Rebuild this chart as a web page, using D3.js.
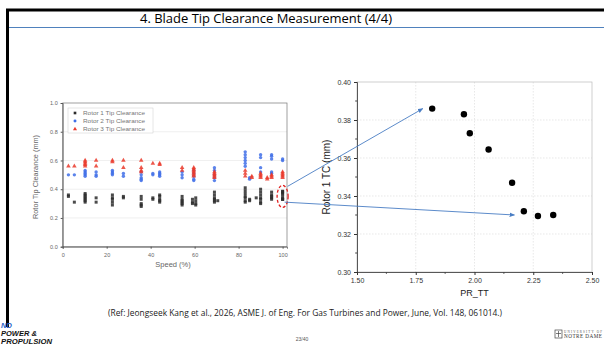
<!DOCTYPE html>
<html>
<head>
<meta charset="utf-8">
<script src="https://cdn.jsdelivr.net/npm/d3@7"></script>
<style>
  body { margin: 0; background: #fff; }
  svg { display: block; }
</style>
</head>
<body>
<svg id="slide" width="604" height="345"></svg>
<script>
// left chart: rotor tip clearance vs speed, [speed %, clearance mm]
const rotor1 = [
  [2.6,0.36],[2.6,0.35],[5.3,0.31],
  [10.2,0.37],[10.2,0.36],[10.2,0.35],[10.2,0.34],[10.2,0.33],[10.2,0.32],[10.2,0.31],
  [15.2,0.34],[15.2,0.31],
  [22.6,0.36],[22.6,0.34],[22.6,0.33],[22.6,0.31],[22.6,0.29],
  [27.6,0.35],[27.6,0.34],
  [35.7,0.35],[35.7,0.33],[35.7,0.30],[35.7,0.29],[35.7,0.28],
  [41,0.34],[41,0.33],
  [44.1,0.36],[44.1,0.35],[44.1,0.33],[44.1,0.32],[44.1,0.31],
  [54.3,0.35],[54.3,0.33],[54.3,0.32],[54.3,0.31],[54.3,0.30],[54.3,0.29],
  [59,0.33],[59,0.31],[59,0.30],[60.5,0.34],[60.5,0.32],[60.5,0.30],[60.5,0.29],
  [69,0.38],[69,0.36],[69,0.34],[69,0.33],[69,0.32],[69,0.31],[70.5,0.32],
  [83,0.41],[83,0.39],[83,0.37],[83,0.35],[83,0.34],[83,0.32],[83,0.31],[85,0.33],[85,0.32],
  [88,0.34],[90,0.40],[90,0.38],[90,0.36],[90,0.34],[90,0.33],[90,0.31],[90,0.30],
  [95,0.38],[95,0.36],[95,0.35],[95,0.34],[95,0.33],
  [100,0.386],[100,0.383],[100,0.373],[100,0.3645],[100,0.347],[100,0.332],[100,0.3295],[100,0.330]
];
const rotor2 = [
  [2.6,0.50],[5.3,0.50],
  [10.2,0.53],[10.2,0.52],[10.2,0.51],[10.2,0.50],[10.2,0.49],
  [15.2,0.52],[15.2,0.50],[15.2,0.49],
  [22.6,0.53],[22.6,0.52],[22.6,0.51],[22.6,0.50],
  [27.6,0.51],[27.6,0.49],
  [35.7,0.52],[35.7,0.50],[35.7,0.48],[35.7,0.47],[35.7,0.46],
  [41,0.51],[41,0.50],
  [44.1,0.52],[44.1,0.51],[44.1,0.50],[44.1,0.49],
  [54.3,0.52],[54.3,0.50],[54.3,0.48],
  [59.6,0.53],[59.6,0.51],[59.6,0.49],[59.6,0.47],[59.6,0.46],
  [69,0.55],[69,0.53],[69,0.50],[69,0.48],[69,0.46],
  [83,0.66],[83,0.64],[83,0.62],[83,0.60],[83,0.58],[83,0.56],[85,0.48],[85,0.47],
  [90,0.64],[90,0.62],[90,0.55],[90,0.52],
  [95,0.64],[95,0.63],[95,0.61],[95,0.52],[95,0.51],
  [100,0.61],[100,0.60]
];
const rotor3 = [
  [2.6,0.56],[5.3,0.56],
  [10.2,0.60],[10.2,0.59],[10.2,0.58],[10.2,0.57],[10.2,0.56],
  [15.2,0.60],[15.2,0.56],
  [22.6,0.60],[22.6,0.59],
  [27.6,0.60],[27.6,0.55],
  [35.7,0.60],[35.7,0.55],[35.7,0.53],[35.7,0.52],
  [41,0.58],[44.1,0.58],[44.1,0.57],
  [54.3,0.55],[54.3,0.53],
  [59.6,0.55],[59.6,0.54],[59.6,0.53],[59.6,0.52],[59.6,0.51],[59.6,0.50],[59.6,0.49],
  [69,0.52],[69,0.51],[69,0.50],[69,0.49],[69,0.48],
  [83,0.53],[83,0.51],[83,0.49],[86,0.49],[86,0.48],
  [90,0.51],[90,0.50],[90,0.49],[90,0.48],[93,0.48],[93,0.47],
  [95,0.50],[95,0.49],[95,0.48],
  [100,0.52],[100,0.51],[100,0.50],[100,0.49],[100,0.48]
];
const leftNames = ['Rotor 1 Tip Clearance', 'Rotor 2 Tip Clearance', 'Rotor 3 Tip Clearance'];
const speedTicks = [0, 20, 40, 60, 80, 100];
const clearTicks = [0, 0.2, 0.4, 0.6, 0.8, 1.0];

// right chart: rotor 1 clearance at 100% speed vs total pressure ratio
const prTT = [1.82, 1.955, 1.98, 2.06, 2.16, 2.21, 2.27, 2.335];
const rotor1TC = [0.386, 0.383, 0.373, 0.3645, 0.347, 0.332, 0.3295, 0.330];
const prTicks = [1.50, 1.75, 2.00, 2.25, 2.50];
const tcTicks = [0.30, 0.32, 0.34, 0.36, 0.38, 0.40];

const svg = d3.select('#slide');

// slide frame + title
svg.append('line').attr('x1', 6).attr('x2', 604).attr('y1', 10).attr('y2', 10)
  .attr('stroke', '#000').attr('stroke-width', 3);
svg.append('line').attr('x1', 7.5).attr('x2', 7.5).attr('y1', 9).attr('y2', 327)
  .attr('stroke', '#000').attr('stroke-width', 3);
svg.append('line').attr('x1', 9).attr('x2', 604).attr('y1', 27.5).attr('y2', 27.5)
  .attr('stroke', '#4f81bd').attr('stroke-width', 1.2);
svg.append('text').attr('x', 266).attr('y', 23).attr('text-anchor', 'middle')
  .attr('font-family', 'Open Sans, sans-serif').attr('font-size', 13)
  .attr('textLength', 252).attr('lengthAdjust', 'spacingAndGlyphs')
  .text('4. Blade Tip Clearance Measurement (4/4)');

// ---------- left chart ----------
const L = { left: 62.7, right: 287, top: 103, bottom: 246.7 };
const xL = d3.scaleLinear().domain([0, 102]).range([L.left, L.right]);
const yL = d3.scaleLinear().domain([0, 1]).range([L.bottom, L.top]);
const left = svg.append('g').attr('class', 'left-chart').attr('font-family', 'Liberation Sans, Arial, sans-serif');

left.append('g').selectAll('line').data(clearTicks.slice(1, -1)).join('line')
  .attr('x1', L.left).attr('x2', L.right).attr('y1', d => yL(d)).attr('y2', d => yL(d))
  .attr('stroke', '#e4e4e4').attr('stroke-width', 0.6);
left.append('rect').attr('x', L.left).attr('y', L.top)
  .attr('width', L.right - L.left).attr('height', L.bottom - L.top)
  .attr('fill', 'none').attr('stroke', '#777').attr('stroke-width', 0.7);

const axL = left.append('g').attr('transform', `translate(0,${L.bottom})`)
  .call(d3.axisBottom(xL).tickValues(speedTicks).tickSize(2).tickFormat(d3.format('d')));
const ayL = left.append('g').attr('transform', `translate(${L.left},0)`)
  .call(d3.axisLeft(yL).tickValues(clearTicks).tickSize(2).tickFormat(d3.format('.1f')));
[axL, ayL].forEach(a => {
  a.select('.domain').attr('stroke', '#555').attr('stroke-width', 0.8);
  a.selectAll('.tick line').attr('stroke', '#555');
  a.selectAll('.tick text').attr('font-size', 5.5).attr('fill', '#666');
});
axL.selectAll('.tick text').attr('dy', '0.9em');

left.append('text').attr('x', 173).attr('y', 267).attr('text-anchor', 'middle')
  .attr('font-size', 7.5).attr('fill', '#666').text('Speed (%)');
left.append('text').attr('transform', 'translate(38,177) rotate(-90)').attr('text-anchor', 'middle')
  .attr('font-size', 7.3).attr('fill', '#666').text('Rotor Tip Clearance (mm)');

const leftSeries = [
  { data: rotor1, color: '#2b2b2b', symbol: d3.symbolSquare },
  { data: rotor2, color: '#3f6fe8', symbol: d3.symbolCircle },
  { data: rotor3, color: '#ea3a2c', symbol: d3.symbolTriangle }
];
leftSeries.forEach(s => {
  left.append('g').selectAll('path').data(s.data).join('path')
    .attr('transform', d => `translate(${xL(d[0])},${yL(d[1])})`)
    .attr('d', d3.symbol(s.symbol, 9))
    .attr('fill', s.color).attr('opacity', 0.85);
});

const legend = left.append('g').attr('transform', 'translate(68,108)');
legend.append('rect').attr('width', 85).attr('height', 25)
  .attr('fill', '#fff').attr('stroke', '#ccc').attr('stroke-width', 0.5);
leftSeries.forEach((s, i) => {
  legend.append('path').attr('transform', `translate(7,${5 + i * 8})`)
    .attr('d', d3.symbol(s.symbol, 7)).attr('fill', s.color);
  legend.append('text').attr('x', 15).attr('y', 7 + i * 8)
    .attr('font-size', 5.5).attr('fill', '#777')
    .attr('textLength', 62).attr('lengthAdjust', 'spacingAndGlyphs').text(leftNames[i]);
});

// red dashed mark around the 100% speed points
left.append('ellipse').attr('cx', xL(100)).attr('cy', yL(0.35)).attr('rx', 5.5).attr('ry', 11)
  .attr('fill', 'none').attr('stroke', '#e02020').attr('stroke-width', 1.3).attr('stroke-dasharray', '3,2');

// ---------- right chart ----------
const R = { left: 357, right: 592, top: 82, bottom: 272 };
const xR = d3.scaleLinear().domain([1.5, 2.5]).range([R.left, R.right]);
const yR = d3.scaleLinear().domain([0.30, 0.40]).range([R.bottom, R.top]);
const right = svg.append('g').attr('class', 'right-chart').attr('font-family', 'Liberation Sans, Arial, sans-serif');

right.append('g').selectAll('line').data(prTicks.slice(1, -1)).join('line')
  .attr('x1', d => xR(d)).attr('x2', d => xR(d)).attr('y1', R.top).attr('y2', R.bottom)
  .attr('stroke', '#d8d8d8').attr('stroke-width', 0.6).attr('stroke-dasharray', '1.5,1.5');
right.append('g').selectAll('line').data(tcTicks.slice(1, -1)).join('line')
  .attr('x1', R.left).attr('x2', R.right).attr('y1', d => yR(d)).attr('y2', d => yR(d))
  .attr('stroke', '#d8d8d8').attr('stroke-width', 0.6).attr('stroke-dasharray', '1.5,1.5');
right.append('rect').attr('x', R.left).attr('y', R.top)
  .attr('width', R.right - R.left).attr('height', R.bottom - R.top)
  .attr('fill', 'none').attr('stroke', '#bbb').attr('stroke-width', 0.7);

const axR = right.append('g').attr('transform', `translate(0,${R.bottom})`)
  .call(d3.axisBottom(xR).tickValues(prTicks).tickSize(3).tickFormat(d3.format('.2f')));
const ayR = right.append('g').attr('transform', `translate(${R.left},0)`)
  .call(d3.axisLeft(yR).tickValues(tcTicks).tickSize(3).tickFormat(d3.format('.2f')));
// minor ticks
axR.append('g').selectAll('line').data(d3.pairs(prTicks).map(p => (p[0] + p[1]) / 2)).join('line')
  .attr('x1', d => xR(d)).attr('x2', d => xR(d)).attr('y1', 0).attr('y2', 1.8).attr('stroke', '#444');
ayR.append('g').selectAll('line').data(d3.pairs(tcTicks).map(p => (p[0] + p[1]) / 2)).join('line')
  .attr('y1', d => yR(d)).attr('y2', d => yR(d)).attr('x1', 0).attr('x2', -1.8).attr('stroke', '#444');
[axR, ayR].forEach(a => {
  a.select('.domain').attr('stroke', '#333').attr('stroke-width', 0.8);
  a.selectAll('.tick line').attr('stroke', '#333');
  a.selectAll('.tick text').attr('font-size', 7).attr('fill', '#333');
});

right.append('text').attr('x', (R.left + R.right) / 2).attr('y', 296).attr('text-anchor', 'middle')
  .attr('font-size', 9).attr('fill', '#222').text('PR_TT');
right.append('text').attr('transform', `translate(330,${(R.top + R.bottom) / 2}) rotate(-90)`)
  .attr('text-anchor', 'middle').attr('font-size', 10).attr('fill', '#222').text('Rotor 1 TC (mm)');

right.append('g').selectAll('circle').data(prTT).join('circle')
  .attr('cx', d => xR(d)).attr('cy', (d, i) => yR(rotor1TC[i])).attr('r', 3.2).attr('fill', '#000');

// ---------- arrows ----------
const defs = svg.append('defs');
defs.append('marker').attr('id', 'arrow').attr('viewBox', '0 0 10 10').attr('refX', 9).attr('refY', 5)
  .attr('markerWidth', 6).attr('markerHeight', 6).attr('orient', 'auto')
  .append('path').attr('d', 'M0,1 L10,5 L0,9 z').attr('fill', '#4a7ec4');
const arrows = [
  [[xL(100) + 5, yL(0.42)], [xR(1.78), yR(0.386)]],
  [[xL(100) + 2, yL(0.31)], [xR(2.17), yR(0.330)]]
];
svg.append('g').selectAll('line').data(arrows).join('line')
  .attr('x1', d => d[0][0]).attr('y1', d => d[0][1]).attr('x2', d => d[1][0]).attr('y2', d => d[1][1])
  .attr('stroke', '#4a7ec4').attr('stroke-width', 0.9).attr('marker-end', 'url(#arrow)');

// ---------- footer ----------
svg.append('text').attr('x', 305).attr('y', 316).attr('text-anchor', 'middle')
  .attr('font-family', 'Open Sans, sans-serif').attr('font-size', 8.3)
  .attr('textLength', 394).attr('lengthAdjust', 'spacingAndGlyphs').attr('fill', '#222')
  .text('(Ref: Jeongseek Kang et al., 2026, ASME J. of Eng. For Gas Turbines and Power, June, Vol. 148, 061014.)');
svg.append('text').attr('x', 302).attr('y', 341).attr('text-anchor', 'middle')
  .attr('font-family', 'Liberation Sans, sans-serif').attr('font-size', 5).attr('fill', '#555').text('23/40');

const nd = svg.append('g').attr('font-family', 'Liberation Sans, Arial, sans-serif')
  .attr('font-weight', 'bold').attr('font-style', 'italic');
nd.append('text').attr('x', 1).attr('y', 328).attr('font-size', 7.5).attr('fill', '#1f5fc8').text('ND');
nd.append('text').attr('x', 1).attr('y', 336).attr('font-size', 7.5).attr('fill', '#111').text('POWER &');
nd.append('text').attr('x', 1).attr('y', 344).attr('font-size', 7.5).attr('fill', '#111')
  .attr('textLength', 51).attr('lengthAdjust', 'spacingAndGlyphs').text('PROPULSION');

const und = svg.append('g').attr('transform', 'translate(555,330)');
und.append('rect').attr('x', 0).attr('y', 0).attr('width', 7).attr('height', 8)
  .attr('fill', 'none').attr('stroke', '#444').attr('stroke-width', 0.7);
und.append('path').attr('d', 'M3.5,1 V7 M1,3.5 H6').attr('stroke', '#444').attr('stroke-width', 0.7);
und.append('text').attr('x', 9).attr('y', 3).attr('font-family', 'Liberation Serif, serif')
  .attr('font-size', 3.2).attr('fill', '#555').attr('textLength', 38).text('UNIVERSITY OF');
und.append('text').attr('x', 9).attr('y', 8).attr('font-family', 'Liberation Serif, serif')
  .attr('font-size', 5.2).attr('fill', '#333').attr('textLength', 38).text('NOTRE DAME');
</script>
</body>
</html>
